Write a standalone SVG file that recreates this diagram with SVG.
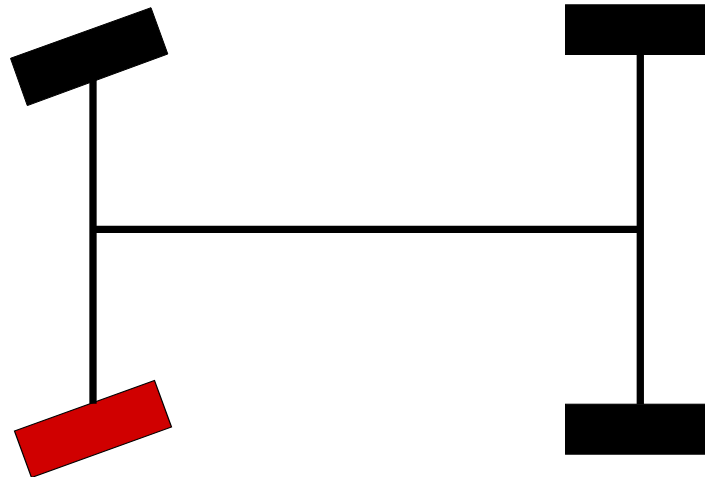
<svg xmlns="http://www.w3.org/2000/svg" width="705" height="477" viewBox="0 0 705 477">
<style>
.axle{stroke:#000;stroke-width:7.3;fill:none}
.wheel{fill:#000;stroke:#000;stroke-width:1}
.steer{fill:#d00000;stroke:#000;stroke-width:1.2}
</style>
<rect width="705" height="477" fill="#fff"/>
<g id="wheel-front-left"><polygon class="wheel" points="10.5,58.3 151,7.7 167.8,54 27.3,105.6"/></g>
<g id="wheel-rear-left"><polygon class="steer" points="14.5,431 154.5,380.5 171.5,427 31.5,477.5"/></g>
<g id="wheel-front-right"><rect class="wheel" x="565.5" y="4.8" width="140" height="49.7"/></g>
<g id="wheel-rear-right"><rect class="wheel" x="565.5" y="404.2" width="140" height="50"/></g>
<g id="connectors">
<line class="axle" x1="93" y1="75" x2="93" y2="403.7"/>
<line class="axle" x1="640.3" y1="54" x2="640.3" y2="404"/>
<line class="axle" x1="93" y1="229.4" x2="640.3" y2="229.4"/>
</g>
</svg>
